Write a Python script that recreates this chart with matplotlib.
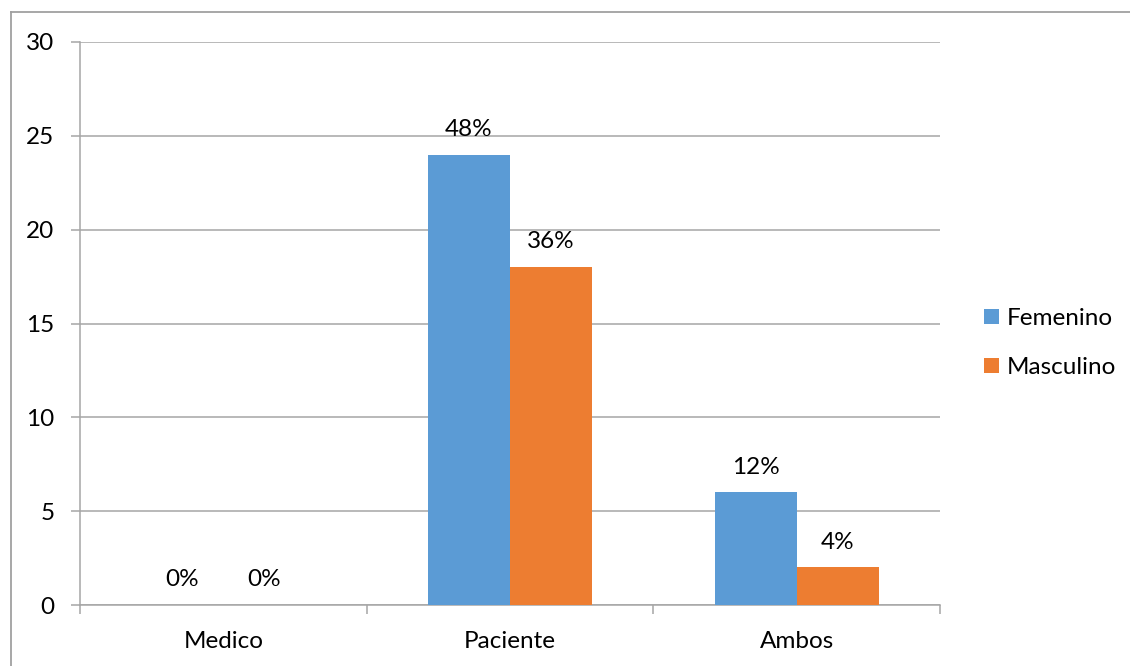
import matplotlib
matplotlib.use("Agg")
import matplotlib.pyplot as plt
import numpy as np
from matplotlib.lines import Line2D
from matplotlib.patches import Patch

categories = ["Medico", "Paciente", "Ambos"]
femenino = [0, 24, 6]
masculino = [0, 18, 2]
fem_labels = ["0%", "48%", "12%"]
mas_labels = ["0%", "36%", "4%"]
series_names = ["Femenino", "Masculino"]
y_ticks = [0, 5, 10, 15, 20, 25, 30]

BLUE = "#5B9BD5"
ORANGE = "#ED7D31"
GRID = "#A6A6A6"

plt.rcParams["font.family"] = ["Lato", "DejaVu Sans"]
FS = 17.5

fig = plt.figure(figsize=(11.30, 6.66), dpi=100)
W, H = 1130, 666

# outer chart frame: top and left edges
fx, fy = 10.5 / W, (H - 12) / H
fig.add_artist(Line2D([fx, 1.0], [fy, fy], transform=fig.transFigure,
                      color="#A0A0A0", linewidth=1.3))
fig.add_artist(Line2D([fx, fx], [0.0, fy], transform=fig.transFigure,
                      color="#A0A0A0", linewidth=1.3))

ax = fig.add_axes([80 / W, (H - 605) / H, (940 - 80) / W, (605 - 42) / H])

x = np.arange(len(categories))
bw = 0.286
b1 = ax.bar(x - bw / 2, femenino, bw, color=BLUE, zorder=3)
b2 = ax.bar(x + bw / 2, masculino, bw, color=ORANGE, zorder=3)

for bars, labels in ((b1, fem_labels), (b2, mas_labels)):
    for rect, lab in zip(bars, labels):
        ax.annotate(lab, (rect.get_x() + rect.get_width() / 2, rect.get_height()),
                    xytext=(0, 13.5), textcoords="offset points",
                    ha="center", va="baseline", fontsize=FS, color="#000000")

ax.set_xlim(-0.5, len(categories) - 0.5)
ax.set_ylim(0, 30)
ax.set_yticks(y_ticks)
ax.set_yticklabels([str(v) for v in y_ticks], fontsize=FS)
ax.yaxis.grid(True, color=GRID, linewidth=1.1, zorder=0)
ax.set_axisbelow(True)

ax.set_xticks(x)
ax.set_xticklabels(categories, fontsize=FS)
ax.tick_params(axis="x", length=0, pad=19)
ax.set_xticks(np.arange(len(categories) + 1) - 0.5, minor=True)
ax.tick_params(axis="x", which="minor", length=6.5, color=GRID, width=1.1, direction="out")
ax.tick_params(axis="y", length=6.5, color=GRID, width=1.1, direction="out", pad=12)

for side in ("top", "right"):
    ax.spines[side].set_visible(False)
for side in ("left", "bottom"):
    ax.spines[side].set_color(GRID)
    ax.spines[side].set_linewidth(1.1)

handles = [Patch(facecolor=BLUE, label=series_names[0]),
           Patch(facecolor=ORANGE, label=series_names[1])]
fig.legend(handles=handles, loc="center left",
           bbox_to_anchor=(984 / W, (H - 343) / H), frameon=False,
           fontsize=FS, handlelength=0.62, handleheight=0.62,
           handletextpad=0.33, labelspacing=1.15, borderaxespad=0, borderpad=0)

fig.savefig("out.png", dpi=100, facecolor="white")
